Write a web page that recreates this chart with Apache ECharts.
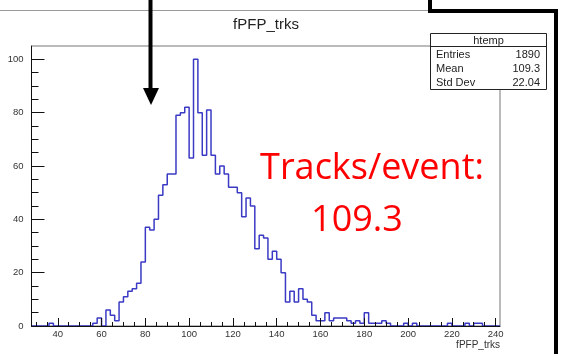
<!DOCTYPE html>
<html>
<head>
<meta charset="utf-8">
<script src="https://cdn.jsdelivr.net/npm/echarts@6/dist/echarts.min.js"></script>
<style>
  html, body { margin: 0; padding: 0; background: #fff; }
  #chart { width: 564px; height: 354px; }
</style>
</head>
<body>
<div id="chart"></div>
<script>
// Histogram of fPFP_trks: 2-unit bins starting at 28
const binLow = 28;
const binWidth = 2;
const counts = [
  0, 0, 0, 0, 1, 0, 0, 0, 0, 0,      // 28 - 46
  0, 0, 0, 0, 1, 3, 0, 6, 4, 2,      // 48 - 66
  9, 11, 13, 14, 16, 24, 37, 36, 40, 49,   // 68 - 86
  53, 57, 57, 79, 80, 82, 63, 100, 80, 64, // 88 - 106
  81, 64, 57, 60, 57, 52, 52, 50, 41, 48,  // 108 - 126
  45, 29, 34, 33, 25, 28, 25, 20, 9, 13,   // 128 - 146
  9, 14, 10, 9, 4, 2, 2, 5, 2, 3,          // 148 - 166
  3, 3, 2, 1, 2, 1, 5, 1, 1, 1,            // 168 - 186
  2, 1, 0, 0, 0, 1, 0, 1, 0, 0,            // 188 - 206
  0, 0, 0, 0, 0, 1, 0, 0, 0, 1,            // 208 - 226
  0, 1, 1, 0, 0, 0, 0                      // 228 - 240
];

// Axis ticks and labels
const xLabels = [40, 60, 80, 100, 120, 140, 160, 180, 200, 220, 240];
const yLabels = [0, 20, 40, 60, 80, 100];
const xRange = [28, 242];
const yRange = [0, 105];

// Stats box contents
const statsTitle = 'htemp';
const statsRows = [['Entries', '1890'], ['Mean', '109.3'], ['Std Dev', '22.04']];
const histTitle = 'fPFP_trks';
const noteLine1 = 'Tracks/event:';
const noteLine2 = '109.3';

// Outline points: one point per bin low edge, closing at the last upper edge
const outline = counts.map((c, i) => [binLow + i * binWidth, c]);
outline.push([binLow + counts.length * binWidth, counts[counts.length - 1]]);

function minorTicks(lo, hi, step) {
  const out = [];
  for (let v = Math.ceil(lo / step) * step; v <= hi; v += step) out.push(v);
  return out;
}
const xMinor = minorTicks(xRange[0], xRange[1], 5);
const yMinor = minorTicks(yRange[0], 100, 5);

const chart = echarts.init(document.getElementById('chart'), null, { renderer: 'canvas' });

const font = 'Liberation Sans, Arial, Helvetica, sans-serif';

const statsX = 430.5, statsY = 33.5, statsW = 116, statsH = 56;
const graphics = [
  // page rule at the top
  { type: 'line', shape: { x1: 0, y1: 10.5, x2: 430, y2: 10.5 }, style: { stroke: '#9a9a9a', lineWidth: 1 }, z: 20 },
  // black connector line
  { type: 'polyline', shape: { points: [[430, 0], [430, 11], [556, 11], [556, 354]] }, style: { stroke: '#000', lineWidth: 4, fill: null, lineJoin: 'miter' }, z: 21 },
  // arrow
  { type: 'line', shape: { x1: 150.5, y1: 0, x2: 150.5, y2: 90 }, style: { stroke: '#000', lineWidth: 4 }, z: 21 },
  { type: 'polygon', shape: { points: [[143, 88], [159, 88], [151, 105]] }, style: { fill: '#000' }, z: 21 },
  // title
  { type: 'text', x: 266, y: 25, style: { text: histTitle, font: '15px ' + font, fill: '#222', textAlign: 'center', textVerticalAlign: 'middle' }, z: 20 },
  // stats box
  { type: 'rect', shape: { x: statsX, y: statsY, width: statsW, height: statsH }, style: { fill: '#fff', stroke: '#222', lineWidth: 1 }, z: 20 },
  { type: 'line', shape: { x1: statsX, y1: 46.5, x2: statsX + statsW, y2: 46.5 }, style: { stroke: '#222', lineWidth: 1 }, z: 21 },
  { type: 'text', x: statsX + statsW / 2, y: 40.5, style: { text: statsTitle, font: '11px ' + font, fill: '#222', textAlign: 'center', textVerticalAlign: 'middle' }, z: 22 }
];
statsRows.forEach((row, i) => {
  const y = 55 + i * 13.8;
  graphics.push({ type: 'text', x: 436, y: y, style: { text: row[0], font: '11px ' + font, fill: '#222', textAlign: 'left', textVerticalAlign: 'middle' }, z: 22 });
  graphics.push({ type: 'text', x: 540, y: y, style: { text: row[1], font: '11px ' + font, fill: '#222', textAlign: 'right', textVerticalAlign: 'middle' }, z: 22 });
});
// red note
graphics.push({ type: 'text', x: 372, y: 187, style: { text: noteLine1, font: '36px "Open Sans", sans-serif', fill: '#ff0000', textAlign: 'center', textVerticalAlign: 'bottom' }, z: 23 });
graphics.push({ type: 'text', x: 357, y: 239, style: { text: noteLine2, font: '36px "Open Sans", sans-serif', fill: '#ff0000', textAlign: 'center', textVerticalAlign: 'bottom' }, z: 23 });

const axisCommon = {
  type: 'value',
  splitLine: { show: false },
  z: 10
};

chart.setOption({
  animation: false,
  backgroundColor: '#fff',
  grid: { left: 31.5, right: 64, top: 46, bottom: 28, show: true, borderColor: '#777', borderWidth: 1, backgroundColor: 'transparent' },
  xAxis: [
    Object.assign({}, axisCommon, {
      min: xRange[0], max: xRange[1], position: 'bottom',
      axisLine: { show: true, onZero: false, lineStyle: { color: '#111', width: 1 } },
      axisTick: { show: true, inside: true, length: 8, customValues: xLabels, lineStyle: { color: '#111' } },
      axisLabel: { customValues: xLabels, fontSize: 9.5, fontFamily: font, color: '#333', margin: 3 },
      name: histTitle, nameLocation: 'end', nameGap: 0,
      nameTextStyle: { fontSize: 10, fontFamily: font, color: '#333', align: 'right', verticalAlign: 'top', padding: [14, 0, 0, 0] }
    }),
    Object.assign({}, axisCommon, {
      min: xRange[0], max: xRange[1], position: 'bottom',
      axisLine: { show: false },
      axisTick: { show: true, inside: true, length: 4, customValues: xMinor, lineStyle: { color: '#111' } },
      axisLabel: { show: false }
    })
  ],
  yAxis: [
    Object.assign({}, axisCommon, {
      min: yRange[0], max: yRange[1], position: 'left',
      axisLine: { show: true, onZero: false, lineStyle: { color: '#111', width: 1 } },
      axisTick: { show: true, inside: true, length: 13, customValues: yLabels, lineStyle: { color: '#111' } },
      axisLabel: { customValues: yLabels, fontSize: 9.5, fontFamily: font, color: '#333', margin: 8 }
    }),
    Object.assign({}, axisCommon, {
      min: yRange[0], max: yRange[1], position: 'left',
      axisLine: { show: false },
      axisTick: { show: true, inside: true, length: 7, customValues: yMinor, lineStyle: { color: '#111' } },
      axisLabel: { show: false }
    })
  ],
  series: [{
    type: 'line',
    step: 'end',
    data: outline,
    xAxisIndex: 0,
    yAxisIndex: 0,
    symbol: 'none',
    lineStyle: { color: '#3a3ac4', width: 1.5 },
    z: 2
  }],
  graphic: graphics
});
</script>
</body>
</html>
